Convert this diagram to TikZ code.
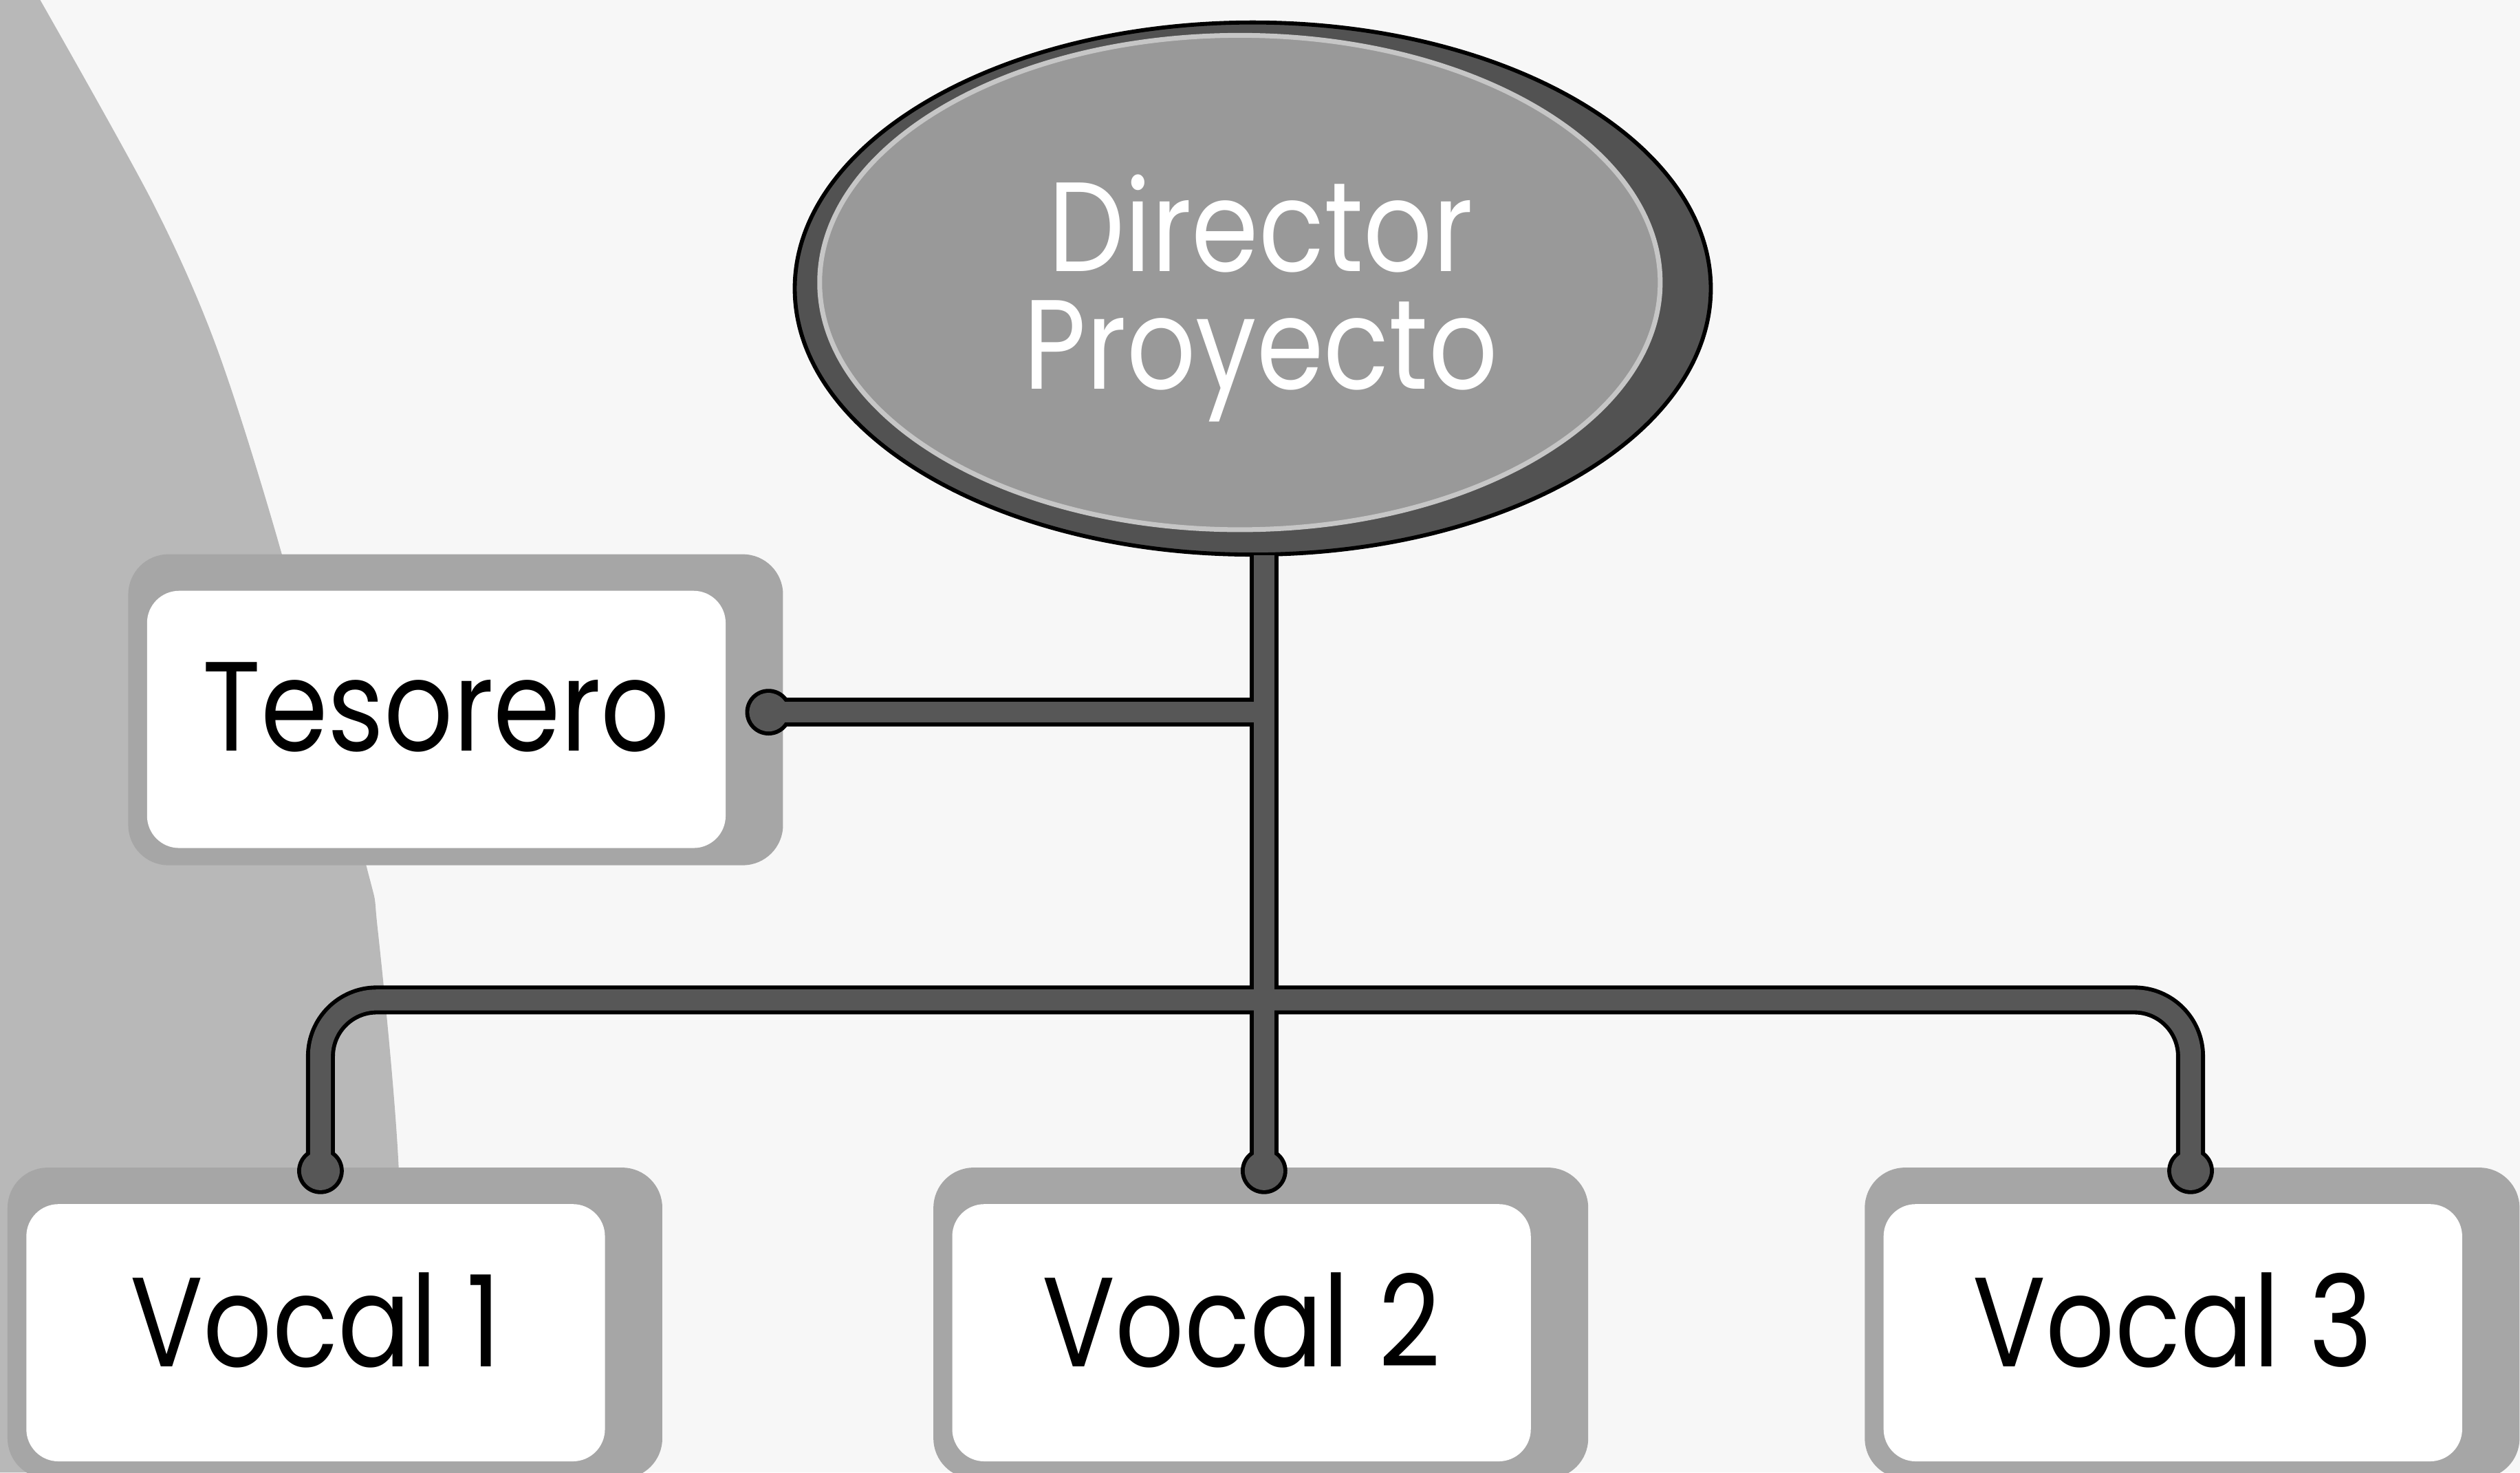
\documentclass[tikz,border=0pt]{standalone}
\usepackage{fontspec}
\setmainfont{Poppins}[FakeStretch = 0.85]
\usetikzlibrary{shapes.geometric, backgrounds}

\definecolor{paper}{gray}{0.97}
\definecolor{sidegray}{gray}{0.72}
\definecolor{framegray}{gray}{0.65}
\definecolor{ring}{gray}{0.32}
\definecolor{bubble}{gray}{0.60}
\definecolor{wire}{gray}{0.34}

\begin{document}
\begin{tikzpicture}[
    boxfont/.style = {font = \fontsize{22.5}{20.8}\selectfont},
    head/.style = {ellipse, fill = bubble, draw = gray!45,
      line width = 0.03cm, inner sep = 0pt,
      minimum width = {5.23cm}, minimum height = {3.075cm},
      text = white, align = center, boxfont},
    member/.style = {rectangle, fill = white,
      rounded corners = 0.2cm, text depth = 0.16cm,
      minimum width = {3.6cm}, minimum height = {1.6cm}, boxfont},
    frame/.style = {fill = framegray, rounded corners = 0.25cm},
    ]

    \useasboundingbox (0, 0) rectangle (15.68, 9.16);

    \node at (7.715, 7.4025)
    [head, name = director]
    {\rule{0pt}{0.8cm}\hspace*{0.26cm}Director\\\hspace*{0.26cm}Proyecto};

    \node at (2.715, 4.685)
    [member, name = tesorero] {Tesorero};

    \node at (1.964, 0.87)
    [member, name = vocal1] {Vocal 1};
    \node at (7.725, 0.87)
    [member, name = vocal2] {Vocal 2};
    \node at (13.52, 0.87)
    [member, name = vocal3] {Vocal 3};

    \coordinate (trunk) at ([xshift = 0.15cm] director.south);
    \coordinate (bus) at (0, 2.94);
    \coordinate (tdot) at ([xshift = 0.26cm, yshift = 0.045cm] tesorero.east);
    \coordinate (d1) at ([xshift = 0.03cm, yshift = 0.2cm] vocal1.north);
    \coordinate (d2) at (trunk |- d1);
    \coordinate (d3) at ([xshift = 0.11cm, yshift = 0.2cm] vocal3.north);

    % outline first, then the grey core
    \foreach \lw/\col/\r in {0.18cm/black/0.145, 0.13cm/wire/0.12} {
      \draw [line width = \lw, draw = \col] ([yshift = -0.145cm] trunk) to (d2);
      \draw [line width = \lw, draw = \col] (tdot) to (trunk |- tdot);
      \draw [line width = \lw, draw = \col, rounded corners = 0.35cm]
      (d1) |- (trunk |- bus) -| (d3);
      \foreach \p in {tdot, d1, d2, d3}
      \fill [\col] (\p) circle [radius = \r];
    }

    \begin{scope}[on background layer]
      \fill [paper] (0, 0) rectangle (15.68, 9.16);
      \fill [sidegray] plot [smooth] coordinates {(0.25, 9.16) (0.95, 7.90)
        (1.34, 7.02) (1.72, 5.83) (2.27, 3.81) (2.35, 3.38) (2.48, 1.91)
        (2.52, 0)} -- (0, 0) -- (0, 9.16) -- cycle;
      \foreach \who in {tesorero, vocal1, vocal2, vocal3}
      \fill [frame] ([shift = {(-0.11, -0.1)}] \who.south west)
      rectangle ([shift = {(0.35, 0.22)}] \who.north east);
      \filldraw [fill = ring, draw = black, line width = 0.025cm]
      ([shift = {(0.08, -0.0375)}] director.center)
      ellipse [x radius = 2.85, y radius = 1.655];
    \end{scope}
  \end{tikzpicture}
\end{document}
